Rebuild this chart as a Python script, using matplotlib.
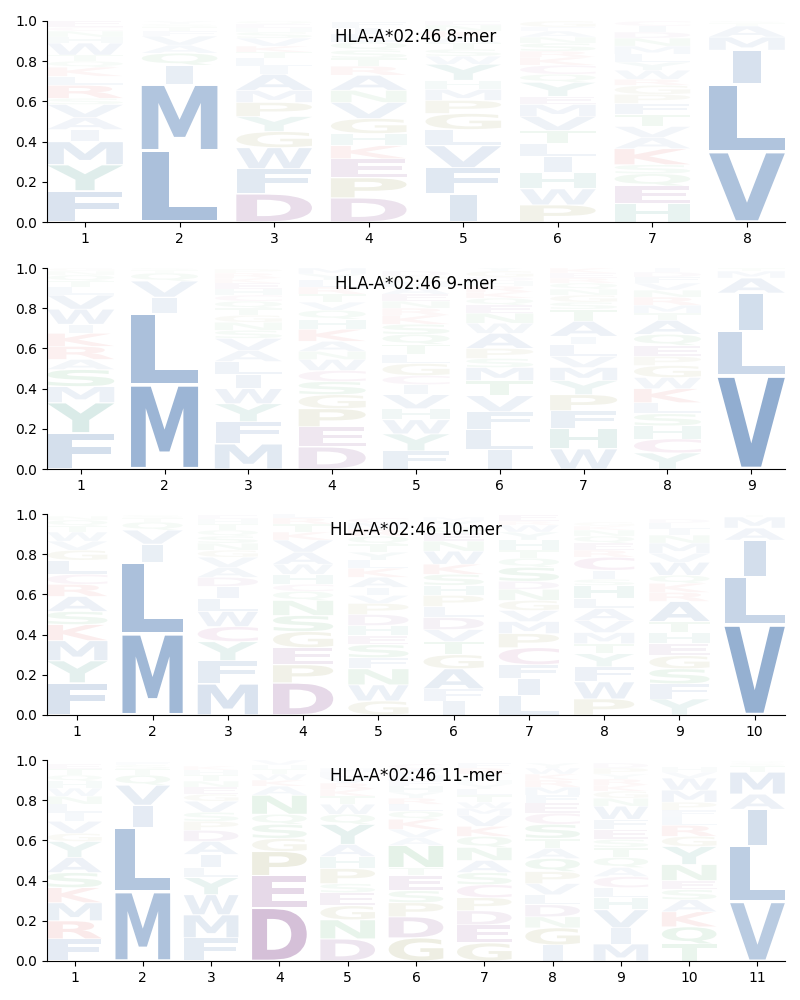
import matplotlib
matplotlib.use("Agg")
import matplotlib.pyplot as plt
from matplotlib.textpath import TextPath
from matplotlib.patches import PathPatch
from matplotlib.font_manager import FontProperties
from matplotlib.transforms import Affine2D

ALLELE = "HLA-A*02:46"

# letters per position, bottom -> top, with their heights
MER8_LETTERS = ["FYMIAVSRLKQTWHNCE", "LMIQAVFTSY", "DFWGYPMAILTKVSHEQ",
                "DPEKHGVNARTSQLIF", "IFVLGPMHYWSTAKNE", "PWHILTVMEYQCKRSNAFG",
                "HEQSKAVTFPGRWYLMNDIC", "VLIMATS"]
MER8_HEIGHTS = [
    [.155, .13, .115, .06, .06, .065, .03, .065, .045, .045, .03, .03, .06, .03, .03, .02, .03],
    [.355, .33, .095, .06, .04, .045, .025, .02, .015, .015],
    [.14, .125, .105, .08, .075, .07, .06, .08, .04, .04, .03, .03, .04, .03, .02, .02, .015],
    [.12, .10, .095, .065, .06, .075, .08, .06, .075, .045, .04, .04, .04, .04, .03, .03],
    [.14, .13, .11, .08, .08, .065, .055, .045, .08, .04, .035, .03, .03, .03, .03, .02],
    [.085, .08, .08, .08, .065, .065, .07, .06, .04, .07, .04, .045, .04, .03, .04, .03, .03, .02, .03],
    [.09, .09, .06, .045, .08, .055, .055, .06, .055, .045, .045, .03, .045, .04, .04, .04, .04, .03, .03, .025],
    [.35, .335, .17, .065, .055, .015, .01],
]

MER9_LETTERS = ["FYMSARKIWVLTQNG", "MLIVQTS", "MFYWILAVSNGTQCHEKRP",
                "DEPGSCWNAKHQVTRLYM", "FYWHVICGLTQSKRNEAMPD", "ILFVTMSPAWNEQKRHDGY",
                "WHFPYMVLIATSGNQREK", "YCHSLKWGPEQATMRNVFDI", "VLIAMT"]
MER9_HEIGHTS = [
    [.18, .15, .08, .085, .05, .065, .065, .045, .075, .07, .04, .03, .03, .02, .015],
    [.42, .355, .08, .08, .04, .015, .01],
    [.125, .11, .09, .075, .07, .065, .055, .06, .04, .04, .035, .035, .035, .03, .03, .03, .025, .025, .02],
    [.11, .10, .09, .07, .065, .055, .055, .04, .05, .06, .05, .045, .04, .04, .035, .035, .03, .03],
    [.09, .085, .07, .055, .07, .05, .045, .06, .045, .05, .05, .05, .045, .035, .035, .035, .035, .03, .025, .025],
    [.095, .10, .09, .08, .075, .065, .045, .05, .075, .05, .05, .04, .035, .03, .03, .025, .02, .03, .02],
    [.10, .10, .09, .08, .07, .065, .055, .06, .04, .075, .06, .035, .035, .03, .03, .025, .025, .025],
    [.08, .07, .065, .06, .055, .07, .055, .06, .045, .055, .055, .07, .035, .04, .04, .035, .035, .03, .025, .02],
    [.465, .22, .19, .075, .035, .015],
]

MER10_LETTERS = ["FYMKSARCLGVWTQN", "MLIVQTS", "MFYCWLIDAVGNSQTHE",
                 "DPEGSNQCHWAVKTRL", "GWNFSEHDPVIAKLYTQRMC", "IFAGTVDLPHSKWNEQYM",
                 "LIFCPMVGNDSQTHYWRE", "PWFYTMVALHSICREQNKG", "YFSGEHTARKQWVMNILD",
                 "VLIAMT"]
MER10_HEIGHTS = [
    [.16, .11, .10, .08, .065, .075, .06, .05, .07, .05, .045, .045, .03, .03, .02],
    [.405, .355, .09, .07, .04, .02, .015],
    [.155, .115, .095, .075, .075, .065, .06, .045, .05, .05, .035, .035, .035, .03, .03, .025, .02],
    [.16, .09, .085, .08, .08, .075, .045, .035, .05, .05, .06, .06, .04, .04, .03, .025],
    [.07, .08, .08, .055, .065, .045, .05, .055, .055, .04, .04, .05, .045, .04, .04, .04, .04, .035, .03, .025],
    [.07, .06, .10, .07, .065, .06, .06, .055, .055, .05, .055, .05, .065, .05, .04, .03, .03, .02],
    [.095, .085, .07, .085, .07, .06, .055, .05, .055, .04, .07, .045, .04, .05, .04, .035, .02, .03],
    [.08, .085, .075, .065, .05, .055, .06, .06, .05, .065, .03, .045, .065, .035, .035, .035, .03, .02, .02],
    [.08, .075, .075, .065, .06, .055, .055, .10, .045, .045, .04, .065, .045, .05, .04, .03, .03, .02],
    [.45, .235, .185, .06, .055, .01],
]

MER11_LETTERS = ["FRMKSAYGVILNWHQTE", "MLIVQTSF", "FMWYLIADPSVGENTHK",
                 "DEPGSQNAKWTHV", "DNGESPHAYQWTKRVLM", "GDPSETNAVKQLRYHFMWC",
                 "GEDPCSANQKVMWTLYHIRF", "IGNDLVPQATSCEFMRKWY", "MIVHLCAQTSEFWNGKRYPD",
                 "TQKASENYGRLFPMWVH", "VLIAMTSQ"]
MER11_HEIGHTS = [
    [.11, .09, .09, .075, .075, .075, .08, .04, .06, .04, .045, .04, .04, .035, .03, .03, .025],
    [.345, .32, .11, .10, .05, .03, .02, .015],
    [.115, .115, .10, .085, .05, .065, .065, .055, .045, .045, .055, .035, .035, .03, .03, .025, .02],
    [.265, .16, .12, .065, .07, .05, .095, .045, .03, .03, .025, .02, .025],
    [.11, .095, .07, .065, .045, .075, .06, .06, .10, .05, .05, .04, .035, .03, .03, .025, .02],
    [.115, .105, .07, .06, .075, .04, .11, .04, .04, .05, .04, .035, .03, .03, .03, .025, .03, .03, .025],
    [.09, .09, .07, .065, .065, .06, .06, .065, .055, .05, .055, .035, .03, .035, .03, .025, .02, .03, .03, .025],
    [.08, .085, .055, .06, .05, .055, .06, .065, .05, .05, .07, .055, .05, .04, .04, .035, .03, .03, .025],
    [.085, .08, .09, .06, .05, .055, .045, .05, .05, .04, .05, .05, .065, .04, .035, .03, .03, .025, .03, .025],
    [.085, .085, .075, .06, .05, .045, .08, .09, .05, .055, .04, .035, .04, .06, .06, .03, .025],
    [.295, .28, .18, .075, .11, .03, .015, .01],
]

PANELS = [(8, MER8_LETTERS, MER8_HEIGHTS), (9, MER9_LETTERS, MER9_HEIGHTS),
          (10, MER10_LETTERS, MER10_HEIGHTS), (11, MER11_LETTERS, MER11_HEIGHTS)]

# colour groups
COLORS = {}
for c in "AVLIMFW":
    COLORS[c] = "#14509b"
for c in "YH":
    COLORS[c] = "#0a7a68"
for c in "DE":
    COLORS[c] = "#641470"
for c in "KR":
    COLORS[c] = "#d21e1e"
for c in "PG":
    COLORS[c] = "#6e6e0a"
for c in "STNQ":
    COLORS[c] = "#148c32"
COLORS["C"] = "#a0287a"

FP = FontProperties(family="DejaVu Sans", weight="bold")
WIDTH = 0.8
VPAD = 0.05
REF_W = TextPath((0, 0), "E", size=1, prop=FP).get_extents().width


def draw_letter(ax, ch, x, y0, h):
    path = TextPath((0, 0), ch, size=1, prop=FP)
    ext = path.get_extents()
    hs = min(WIDTH / ext.width, WIDTH / REF_W)
    vs = h * (1 - VPAD) / ext.height
    t = (Affine2D().translate(-ext.x0 - ext.width / 2, -ext.y0)
         .scale(hs, vs).translate(x, y0 + h * VPAD / 2))
    ax.add_patch(PathPatch(t.transform_path(path), facecolor=COLORS[ch],
                           edgecolor="none", alpha=min(1.0, h), lw=0))


fig = plt.figure(figsize=(8, 10), dpi=100)
tops = [0.979, 0.732, 0.486, 0.240]
for (n, letters, heights), top in zip(PANELS, tops):
    ax = fig.add_axes([0.059, top - 0.201, 0.922, 0.201])
    for i, (col, hts) in enumerate(zip(letters, heights)):
        y = 0.0
        for ch, h in zip(col, hts):
            draw_letter(ax, ch, i + 1, y, h)
            y += h
    ax.set_xlim(0.6, n + 0.4)
    ax.set_ylim(0, 1)
    ax.set_xticks(range(1, n + 1))
    ax.set_yticks([0, 0.2, 0.4, 0.6, 0.8, 1.0])
    ax.spines["top"].set_visible(False)
    ax.spines["right"].set_visible(False)
    ax.text(0.5, 0.92, f"{ALLELE} {n}-mer", transform=ax.transAxes,
            ha="center", va="center", fontsize=12)

fig.savefig("out.png")
